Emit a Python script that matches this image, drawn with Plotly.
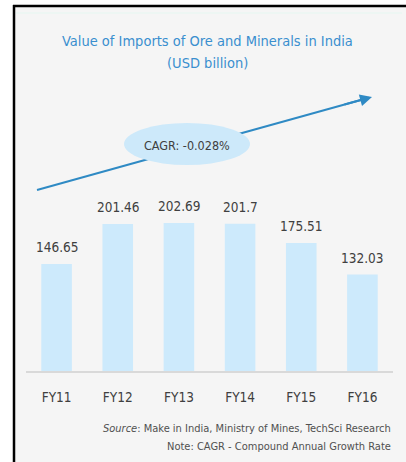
import plotly.graph_objects as go

categories = ["FY11", "FY12", "FY13", "FY14", "FY15", "FY16"]
values = [146.65, 201.46, 202.69, 201.7, 175.51, 132.03]
value_labels = ["146.65", "201.46", "202.69", "201.7", "175.51", "132.03"]
title_lines = ["Value of Imports of Ore and Minerals in India", "(USD billion)"]
cagr_text = "CAGR: -0.028%"
source_text = "<i>Source</i>: Make in India, Ministry of Mines, TechSci Research"
note_text = "Note: CAGR - Compound Annual Growth Rate"

W, H = 406, 462
FONT = "Liberation Sans Narrow, Arial Narrow, DejaVu Sans Condensed, Liberation Sans, sans-serif"

def px(x):
    return x / W

def py(y):
    return 1 - y / H

fig = go.Figure()
fig.add_trace(go.Bar(
    x=categories, y=values,
    marker=dict(color="#cdeafc", line=dict(width=0)),
    width=0.5, hoverinfo="skip",
))

for c, v, t in zip(categories, values, value_labels):
    fig.add_annotation(x=c, y=v, text=t, showarrow=False, xref="x", yref="y",
                       yanchor="bottom", yshift=7,
                       font=dict(family=FONT, size=13.5, color="#404040"))

shapes = [
    dict(type="rect", xref="paper", yref="paper", x0=px(15), x1=1, y0=0, y1=py(7),
         fillcolor="#f5f5f5", line=dict(width=0), layer="below"),
    dict(type="line", xref="paper", yref="paper", x0=px(14), x1=px(14), y0=0, y1=py(5),
         line=dict(color="#000000", width=2.5), layer="above"),
    dict(type="line", xref="paper", yref="paper", x0=px(13), x1=1, y0=py(6), y1=py(6),
         line=dict(color="#000000", width=2.5), layer="above"),
    dict(type="line", xref="paper", yref="paper", x0=px(16), x1=px(402), y0=py(13), y1=py(13),
         line=dict(color="#eaf6f2", width=1.5), layer="below"),
    dict(type="line", xref="paper", yref="paper", x0=px(37), y0=py(190), x1=px(368), y1=py(98),
         line=dict(color="#2f8ac4", width=2), layer="below"),
    dict(type="circle", xref="paper", yref="paper", x0=px(124), x1=px(250), y0=py(165), y1=py(123),
         fillcolor="#cde9fa", line=dict(width=0), layer="below"),
]

annotations = [
    dict(xref="paper", yref="paper", x=px(207), y=py(41), text=title_lines[0], showarrow=False,
         font=dict(family=FONT, size=14.5, color="#3a8fcf"), xanchor="center", yanchor="middle"),
    dict(xref="paper", yref="paper", x=px(207), y=py(63), text=title_lines[1], showarrow=False,
         font=dict(family=FONT, size=14.5, color="#3a8fcf"), xanchor="center", yanchor="middle"),
    dict(xref="paper", yref="paper", x=px(187), y=py(145), text=cagr_text, showarrow=False,
         font=dict(family=FONT, size=12.5, color="#404040"), xanchor="center", yanchor="middle"),
    dict(xref="paper", yref="paper", x=px(372), y=py(97), ax=-29, ay=8, text="", showarrow=True,
         arrowhead=2, arrowsize=1.2, arrowwidth=2, arrowcolor="#2f8ac4"),
    dict(xref="paper", yref="paper", x=px(393), y=py(428), text=source_text, showarrow=False,
         font=dict(family=FONT, size=11, color="#505050"), xanchor="right", yanchor="middle"),
    dict(xref="paper", yref="paper", x=px(393), y=py(446), text=note_text, showarrow=False,
         font=dict(family=FONT, size=11, color="#505050"), xanchor="right", yanchor="middle"),
]

fig.update_layout(
    width=W, height=H,
    margin=dict(l=0, r=0, t=0, b=0),
    paper_bgcolor="#ffffff",
    plot_bgcolor="rgba(0,0,0,0)",
    showlegend=False,
    shapes=shapes,
    xaxis=dict(domain=[px(26), px(393)], showgrid=False, zeroline=False,
               showline=True, linecolor="#d9d9d9", linewidth=1.5,
               ticks="outside", ticklen=13, tickcolor="rgba(0,0,0,0)",
               tickfont=dict(family=FONT, size=13.5, color="#404040"), fixedrange=True),
    yaxis=dict(domain=[py(371), 1], range=[0, 371 / 0.73], visible=False, fixedrange=True),
)
for a in annotations:
    fig.add_annotation(**a)

fig.write_html("out.html", config={"displayModeBar": False})

with open("out.html", "r", encoding="utf-8") as f:
    html = f.read()
html = html.replace("<head>", "<head><style>html,body{margin:0;padding:0;overflow:hidden;}</style>", 1)
with open("out.html", "w", encoding="utf-8") as f:
    f.write(html)
